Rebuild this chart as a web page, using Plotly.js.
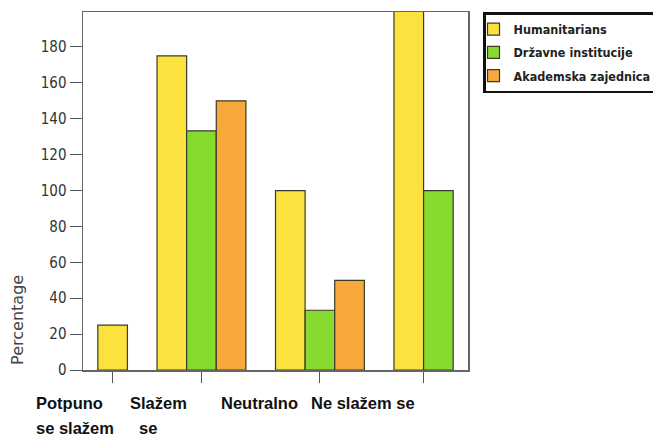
<!DOCTYPE html>
<html>
<head>
<meta charset="utf-8">
<script src="https://cdn.plot.ly/plotly-3.0.1.min.js"></script>
<style>html,body{margin:0;padding:0;background:#fff;}#chart{width:653px;height:436px;}</style>
</head>
<body>
<div id="chart"></div>
<script>
// ---- data ----
var categories = ['Potpuno<br>se slažem', 'Slažem<br>se', 'Neutralno', 'Ne slažem se'];
var seriesNames = ['Humanitarians', 'Državne institucije', 'Akademska zajednica'];
var humanitarians = [25, 175, 100, 200];
var drzavneInstitucije = [null, 133.3, 33.3, 100];
var akademskaZajednica = [null, 150, 50, null];
var yTicks = [0, 20, 40, 60, 80, 100, 120, 140, 160, 180];

// ---- styles ----
var colors = ['#FCE23F', '#86DB2E', '#F8A93C'];
var labelShift = [-79, -73, -101, -115];

var seriesValues = [humanitarians, drzavneInstitucije, akademskaZajednica];

// Bars of each category are packed side by side (only the present ones),
// with one bar-width gap between categories.
var xs = seriesValues.map(function(){ return categories.map(function(){ return null; }); });
var tickPos = [];
var cursor = 0.5;
categories.forEach(function(c, i){
  var k = 0;
  seriesValues.forEach(function(vals, s){
    if (vals[i] !== null && vals[i] !== undefined) { xs[s][i] = cursor + 0.5 + k; k++; }
  });
  tickPos.push(cursor + k / 2);
  cursor += k + 1;
});
var xMax = cursor - 0.5;

var traces = seriesValues.map(function(vals, s){
  return {
    type: 'bar',
    name: seriesNames[s],
    legendgroup: 'g' + s,
    x: xs[s],
    y: vals,
    width: 1,
    marker: {color: colors[s], line: {color: '#3a3a2a', width: 1.2}},
    hoverinfo: 'skip'
  };
});

var annotations = [];
categories.forEach(function(c, i){
  c.split('<br>').forEach(function(line, j){
    annotations.push({
      text: line, xref: 'x', yref: 'paper', x: tickPos[i], y: 0,
      xanchor: 'left', yanchor: 'top', align: 'left',
      xshift: labelShift[i] + (j > 0 && i === 1 ? 9 : 0), yshift: -22 - 25 * j, showarrow: false,
      font: {family: 'Liberation Sans, Arial, sans-serif', size: 16.5, color: '#111', weight: 'bold'}
    });
  });
});
annotations.push({
  text: 'Percentage', xref: 'paper', yref: 'paper', x: 0, y: 0.14,
  xshift: -65, xanchor: 'center', yanchor: 'middle', textangle: -90, showarrow: false,
  font: {family: 'DejaVu Sans, sans-serif', size: 16, color: '#444'}
});

var layout = {
  width: 653, height: 436,
  margin: {l: 83, r: 185, t: 12, b: 66, autoexpand: false},
  paper_bgcolor: '#fff', plot_bgcolor: '#fff',
  barmode: 'overlay',
  showlegend: true,
  legend: {
    x: 1.039, y: 1, xanchor: 'left', yanchor: 'top',
    bgcolor: '#fff', bordercolor: '#111', borderwidth: 2.5,
    indentation: -12, tracegroupgap: 4, traceorder: 'grouped',
    font: {family: 'DejaVu Sans Condensed, DejaVu Sans, sans-serif', size: 12.5, color: '#222', weight: 'bold'}
  },
  xaxis: {
    range: [0, xMax], tickmode: 'array', tickvals: tickPos, ticktext: categories,
    showticklabels: false, ticks: 'outside', ticklen: 11, tickcolor: '#555', tickwidth: 1,
    showgrid: false, zeroline: false, showline: true, linecolor: '#666', linewidth: 1.5, mirror: true,
    fixedrange: true
  },
  yaxis: {
    range: [0, 199.5], tickmode: 'array', tickvals: yTicks,
    ticks: 'outside', ticklen: 12, tickcolor: '#555', tickwidth: 1,
    tickfont: {family: 'DejaVu Sans Condensed, DejaVu Sans, sans-serif', size: 15, color: '#333'},
    showgrid: false, zeroline: false, showline: true, linecolor: '#666', linewidth: 1.5, mirror: true,
    fixedrange: true
  },
  annotations: annotations
};

Plotly.newPlot('chart', traces, layout, {displayModeBar: false, staticPlot: true});
</script>
</body>
</html>
